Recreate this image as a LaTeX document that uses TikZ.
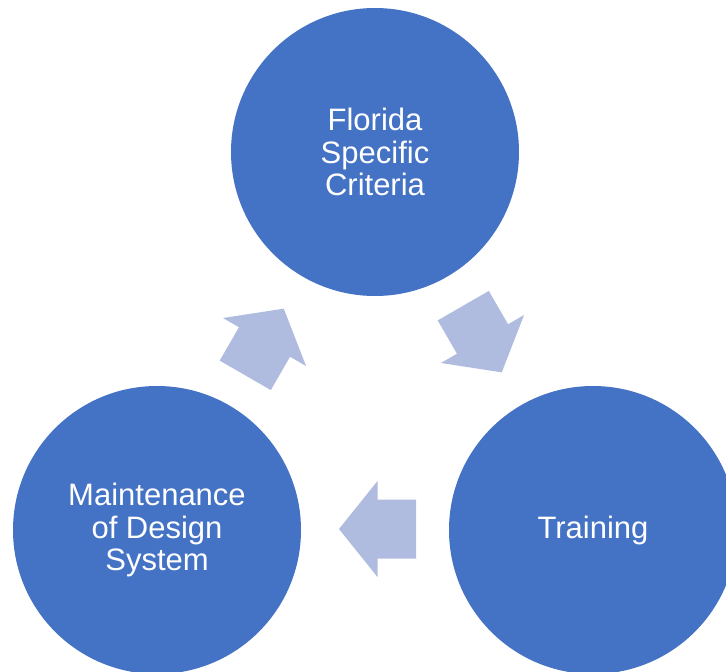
\documentclass[tikz,border=0pt]{standalone}
\usepackage{fontspec}
\setmainfont{Liberation Sans}
\definecolor{circblue}{RGB}{68,114,196}
\definecolor{arrowblue}{RGB}{176,188,223}

\tikzset{
    stage/.style={shape=circle, fill=circblue, minimum size=288pt, inner sep=0pt,
        text=white, align=center, font=\fontsize{31}{32.5}\selectfont},
    blockarrow/.style={fill=arrowblue}
}

\begin{document}
\begin{tikzpicture}[x=1pt, y=1pt]
        \useasboundingbox (0,0) rectangle (726,-672);
        \clip (0,0) rectangle (726,-672);

        \node[stage] (FSC) at (375,-152) {Florida\\Specific\\Criteria};
        \node[stage] (TR) at (593,-530) {Training};
        \node[stage] (MDS) at (157,-530) {Maintenance\\of Design\\System};

        \fill[blockarrow, shift={(482.5,-339)}, rotate=-60] (-38.5,-29.5) -- (0,-29.5) -- (0,-48) -- (38.5,0) -- (0,48) -- (0,29.5) -- (-38.5,29.5) -- cycle;
        \fill[blockarrow, shift={(377.5,-529)}, rotate=180] (-38.5,-29.5) -- (0,-29.5) -- (0,-48) -- (38.5,0) -- (0,48) -- (0,29.5) -- (-38.5,29.5) -- cycle;
        \fill[blockarrow, shift={(264.5,-342)}, rotate=60] (-38.5,-29.5) -- (0,-29.5) -- (0,-48) -- (38.5,0) -- (0,48) -- (0,29.5) -- (-38.5,29.5) -- cycle;
    \end{tikzpicture}
\end{document}
